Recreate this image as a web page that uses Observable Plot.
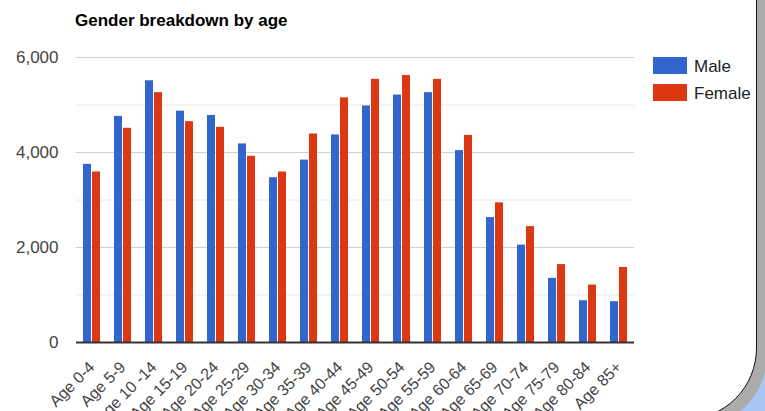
<!DOCTYPE html>
<html>
<head>
<meta charset="utf-8">
<script src="https://cdn.jsdelivr.net/npm/d3@7"></script>
<script src="https://cdn.jsdelivr.net/npm/@observablehq/plot@0.6"></script>
<style>
  html, body { margin: 0; padding: 0; background: #fff; }
  #wrap { position: relative; width: 765px; height: 411px; overflow: hidden; background: #a9c6f2;
          font-family: "Liberation Sans", Arial, sans-serif; }
  #shadow { position: absolute; left: -100px; top: -100px; width: 867px; height: 527px;
            background: #ababab; border-radius: 72px; }
  #card { position: absolute; left: -100px; top: -100px; width: 854.5px; height: 517.5px;
          background: #fff; border: 1.5px solid #111; border-radius: 72px; }
  #title { position: absolute; left: 75px; top: 12px; font-size: 17px; line-height: 17px;
           font-weight: bold; color: #000; white-space: nowrap; }
  #chart { position: absolute; left: 0; top: 0; }
  .leg { position: absolute; left: 653px; font-size: 17px; line-height: 17px; color: #222; white-space: nowrap; }
  .leg span.sw { position: absolute; left: 0; top: 0; width: 34px; height: 17px; }
  .leg span.lb { position: absolute; left: 41px; top: 1px; }
</style>
</head>
<body>
<div id="wrap">
  <div id="shadow"></div>
  <div id="card"></div>
  <div id="chart"></div>
  <div id="title">Gender breakdown by age</div>
  <div id="legend"></div>
</div>
<script>
const ages = ["Age 0-4", "Age 5-9", "Age 10 -14", "Age 15-19", "Age 20-24", "Age 25-29",
  "Age 30-34", "Age 35-39", "Age 40-44", "Age 45-49", "Age 50-54", "Age 55-59",
  "Age 60-64", "Age 65-69", "Age 70-74", "Age 75-79", "Age 80-84", "Age 85+"];
const male = [3750, 4760, 5510, 4870, 4780, 4180, 3470, 3840, 4370, 4980, 5210, 5260,
  4040, 2630, 2050, 1350, 880, 860];
const female = [3590, 4510, 5260, 4650, 4530, 3920, 3590, 4390, 5150, 5540, 5620, 5540,
  4360, 2940, 2440, 1640, 1210, 1580];
const series = ["Male", "Female"];
const colors = ["#3366cc", "#dc3912"];
const yTicks = [0, 2000, 4000, 6000];
const majorGrid = [2000, 4000, 6000];
const minorGrid = [1000, 3000, 5000];

const data = ages.flatMap((a, i) => [
  {age: a, sex: "Male", value: male[i]},
  {age: a, sex: "Female", value: female[i]}
]);

const chart = Plot.plot({
  width: 765,
  height: 411,
  marginTop: 57,
  marginBottom: 69,
  marginLeft: 75,
  marginRight: 130,
  style: {background: "transparent", fontFamily: "'Liberation Sans', Arial, sans-serif", fontSize: "17px", color: "#444"},
  fx: {domain: ages, padding: 0, label: null},
  x: {domain: series, paddingInner: 0.1, paddingOuter: 0.69, axis: null},
  y: {domain: [0, 6000], axis: null},
  color: {domain: series, range: colors},
  marks: [
    Plot.ruleY(minorGrid, {stroke: "#e8e8e8", strokeWidth: 1}),
    Plot.ruleY(majorGrid, {stroke: "#d0d0d0", strokeWidth: 1}),
    Plot.barY(data, {fx: "age", x: "sex", y: "value", fill: "sex"}),
    Plot.ruleY([0], {stroke: "#333", strokeWidth: 2}),
    Plot.axisY({ticks: yTicks, tickSize: 0, tickPadding: 18, tickFormat: d3.format(","), label: null, fontSize: 17}),
    Plot.axisFx({anchor: "bottom", tickRotate: -45, tickSize: 0, tickPadding: 22, label: null, fontSize: 16})
  ]
});
document.getElementById("chart").appendChild(chart);

const legend = document.getElementById("legend");
const legTops = [57, 84];
series.forEach((s, i) => {
  const d = document.createElement("div");
  d.className = "leg";
  d.style.top = legTops[i] + "px";
  d.innerHTML = `<span class="sw" style="background:${colors[i]}"></span><span class="lb">${s}</span>`;
  legend.appendChild(d);
});
</script>
</body>
</html>
